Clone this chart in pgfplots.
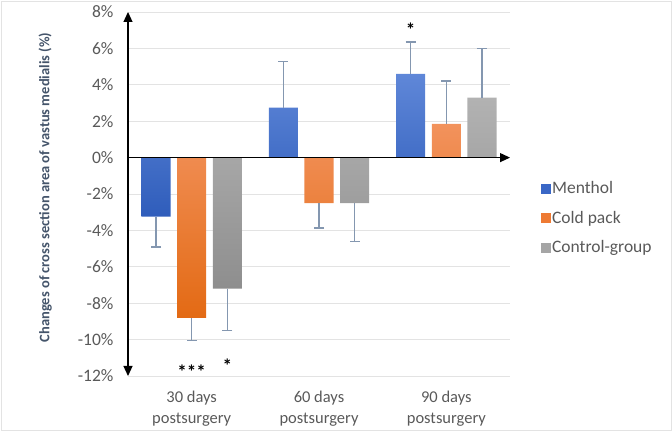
\documentclass[border=0pt]{standalone}
\usepackage{pgfplots}
\pgfplotsset{compat=1.18}
\usetikzlibrary{arrows.meta}
\usepackage{fontspec}
\setmainfont{Carlito}
\definecolor{mblueT}{HTML}{5F87D8}
\definecolor{mblueB}{HTML}{2F5DBB}
\definecolor{mblue}{HTML}{3A67C6}
\definecolor{morangeT}{HTML}{F2925C}
\definecolor{morangeB}{HTML}{E36A14}
\definecolor{morange}{HTML}{EE7A33}
\definecolor{mgrayT}{HTML}{B2B2B2}
\definecolor{mgrayB}{HTML}{8E8E8E}
\definecolor{mgray}{HTML}{A5A5A5}
\definecolor{errc}{HTML}{8497B0}
\definecolor{gridc}{HTML}{E3E3E3}
\definecolor{tickc}{HTML}{595959}
\definecolor{labc}{HTML}{44546A}
\begin{document}
\begin{tikzpicture}
\useasboundingbox (0,0) rectangle (672bp,431bp);
\draw[gridc, line width=0.8bp] (1bp,1bp) rectangle (671bp,430bp);
\begin{axis}[
  at={(128bp,55bp)}, anchor=south west, scale only axis,
  width=382bp, height=364bp,
  xmin=-0.5, xmax=2.5, ymin=-12, ymax=8,
  ytick={-12,-10,...,8},
  yticklabel={\pgfmathprintnumber{\tick}\%},
  /pgf/number format/assume math mode=true,
  xtick={0,1,2},
  xticklabels={{30 days\\postsurgery},{60 days\\postsurgery},{90 days\\postsurgery}},
  xticklabel style={align=center, font=\fontsize{16.5bp}{20.5bp}\selectfont, text=tickc, yshift=-12bp},
  yticklabel style={font=\fontsize{17.5bp}{20bp}\selectfont, text=tickc, xshift=-11bp},
  ymajorgrids, grid style={gridc, line width=0.8bp},
  axis line style={draw=none}, major tick length=0pt,
  ylabel={Changes of cross section area of vastus medialis (\%)},
  y label style={at={(axis description cs:-0.217,0.518)}, anchor=center,
    font=\bfseries\fontsize{14.5bp}{17bp}\selectfont, text=labc},
  ybar, bar width=0.228,
  error bars/y dir=plus, error bars/y explicit,
  error bars/error bar style={draw=errc, line width=1.5bp},
  error bars/error mark options={draw=errc, line width=1.5bp, mark size=5bp, rotate=90},
  legend style={at={(rel axis cs:1.072,0.434)}, anchor=west, draw=none, fill=none,
    font=\fontsize{17.5bp}{20bp}\selectfont, text=tickc, row sep=12bp},
  legend cell align=left,
  clip=false,
]
\addplot[bar shift=-0.28, draw=none, top color=mblueT, bottom color=mblueB, forget plot]
  coordinates {(0,-3.24) +- (0,-1.66) (1,2.75) +- (0,2.52) (2,4.6) +- (0,1.75)};
\addplot[bar shift=0, draw=none, top color=morangeT, bottom color=morangeB, forget plot]
  coordinates {(0,-8.8) +- (0,-1.25) (1,-2.5) +- (0,-1.38) (2,1.85) +- (0,2.35)};
\addplot[bar shift=0.28, draw=none, top color=mgrayT, bottom color=mgrayB, forget plot]
  coordinates {(0,-7.2) +- (0,-2.3) (1,-2.5) +- (0,-2.1) (2,3.3) +- (0,2.7)};
\addlegendimage{legend image code/.code={\fill[mblue] (0bp,-4.5bp) rectangle (9bp,4.5bp);}}
\addlegendentry{Menthol}
\addlegendimage{legend image code/.code={\fill[morange] (0bp,-4.5bp) rectangle (9bp,4.5bp);}}
\addlegendentry{Cold pack}
\addlegendimage{legend image code/.code={\fill[mgray] (0bp,-4.5bp) rectangle (9bp,4.5bp);}}
\addlegendentry{Control-group}
% axes with arrows
\draw[black, line width=1.2bp, {Triangle[length=10bp,width=9bp]}-{Triangle[length=10bp,width=9bp]}]
  (axis cs:-0.5,-12) -- (axis cs:-0.5,8);
\draw[black, line width=1.2bp, -{Triangle[length=10bp,width=9bp]}]
  (axis cs:-0.5,0) -- (axis cs:2.5,0);
% significance marks
\node[font=\bfseries\fontsize{19bp}{20bp}\selectfont] at (axis cs:0,-11.75) {***};
\node[font=\bfseries\fontsize{19bp}{20bp}\selectfont] at (axis cs:0.28,-11.45) {*};
\node[font=\bfseries\fontsize{19bp}{20bp}\selectfont] at (axis cs:1.72,7.0) {*};
\end{axis}
\end{tikzpicture}
\end{document}
